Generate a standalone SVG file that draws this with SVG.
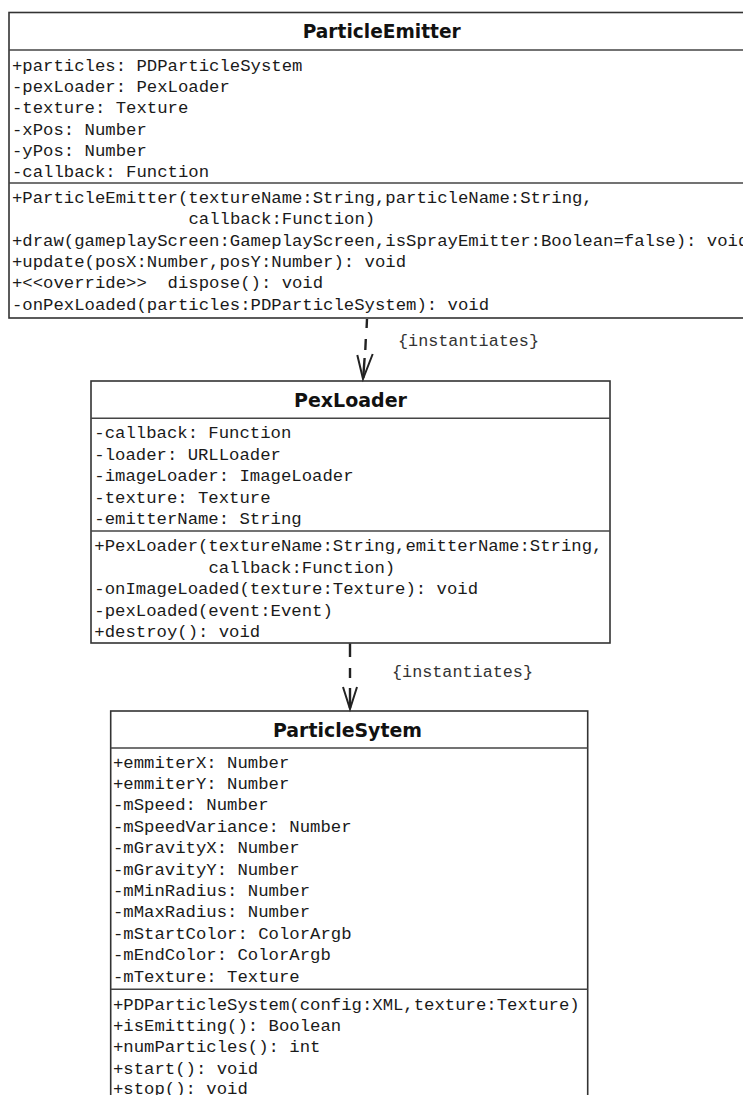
<svg xmlns="http://www.w3.org/2000/svg" width="743" height="1095" viewBox="0 0 743 1095">
<style>
.box{fill:#fff;stroke:#333;stroke-width:1.6}
.div{stroke:#444;stroke-width:1.6}
.title{font-family:"DejaVu Sans","Liberation Sans",sans-serif;font-weight:bold;font-size:19px;fill:#111;text-anchor:middle}
.m{font-family:"Liberation Mono","DejaVu Sans Mono",monospace;font-size:17.3px;fill:#1a1a1a;white-space:pre}
.lbl{font-family:"Liberation Mono","DejaVu Sans Mono",monospace;font-size:16.8px;fill:#333;white-space:pre}
.dash{stroke:#222;stroke-width:2.4;fill:none;stroke-linecap:butt}
.head{stroke:#222;stroke-width:2;fill:none;stroke-linejoin:miter}
</style>
<rect width="743" height="1095" fill="#fff"/>

<g id="ParticleEmitter">
<rect class="box" x="9" y="12.5" width="760" height="305.5"/>
<line class="div" x1="9" y1="50" x2="769" y2="50"/>
<line class="div" x1="9" y1="183" x2="769" y2="183"/>
<text class="title" x="381.7" y="38" textLength="158" lengthAdjust="spacingAndGlyphs">ParticleEmitter</text>
<text class="m" x="12" y="71">+particles: PDParticleSystem</text>
<text class="m" x="12" y="92.2">-pexLoader: PexLoader</text>
<text class="m" x="12" y="113.4">-texture: Texture</text>
<text class="m" x="12" y="134.6">-xPos: Number</text>
<text class="m" x="12" y="155.8">-yPos: Number</text>
<text class="m" x="12" y="177">-callback: Function</text>
<text class="m" x="12" y="203">+ParticleEmitter(textureName:String,particleName:String,</text>
<text class="m" x="188.5" y="224.3">callback:Function)</text>
<text class="m" x="12" y="245.6">+draw(gameplayScreen:GameplayScreen,isSprayEmitter:Boolean=false): void</text>
<text class="m" x="12" y="266.9">+update(posX:Number,posY:Number): void</text>
<text class="m" x="12" y="288.2">+&lt;&lt;override&gt;&gt;  dispose(): void</text>
<text class="m" x="12" y="309.5">-onPexLoaded(particles:PDParticleSystem): void</text>
</g>

<g id="PexLoader">
<rect class="box" x="91" y="381" width="519" height="262"/>
<line class="div" x1="91" y1="418.3" x2="610" y2="418.3"/>
<line class="div" x1="91" y1="531" x2="610" y2="531"/>
<text class="title" x="350.5" y="407" textLength="113" lengthAdjust="spacingAndGlyphs">PexLoader</text>
<text class="m" x="94.3" y="438">-callback: Function</text>
<text class="m" x="94.3" y="459.5">-loader: URLLoader</text>
<text class="m" x="94.3" y="481">-imageLoader: ImageLoader</text>
<text class="m" x="94.3" y="502.5">-texture: Texture</text>
<text class="m" x="94.3" y="524">-emitterName: String</text>
<text class="m" x="94.3" y="551">+PexLoader(textureName:String,emitterName:String,</text>
<text class="m" x="208.5" y="572.5">callback:Function)</text>
<text class="m" x="94.3" y="594">-onImageLoaded(texture:Texture): void</text>
<text class="m" x="94.3" y="615.5">-pexLoaded(event:Event)</text>
<text class="m" x="94.3" y="637">+destroy(): void</text>
</g>

<g id="ParticleSytem">
<rect class="box" x="110.7" y="711" width="477" height="400"/>
<line class="div" x1="110.7" y1="748" x2="587.7" y2="748"/>
<line class="div" x1="110.7" y1="989.3" x2="587.7" y2="989.3"/>
<text class="title" x="347.5" y="737" textLength="149" lengthAdjust="spacingAndGlyphs">ParticleSytem</text>
<text class="m" x="113" y="767.5">+emmiterX: Number</text>
<text class="m" x="113" y="788.9">+emmiterY: Number</text>
<text class="m" x="113" y="810.3">-mSpeed: Number</text>
<text class="m" x="113" y="831.7">-mSpeedVariance: Number</text>
<text class="m" x="113" y="853.1">-mGravityX: Number</text>
<text class="m" x="113" y="874.5">-mGravityY: Number</text>
<text class="m" x="113" y="895.9">-mMinRadius: Number</text>
<text class="m" x="113" y="917.3">-mMaxRadius: Number</text>
<text class="m" x="113" y="938.7">-mStartColor: ColorArgb</text>
<text class="m" x="113" y="960.1">-mEndColor: ColorArgb</text>
<text class="m" x="113" y="981.5">-mTexture: Texture</text>
<text class="m" x="113" y="1009.5">+PDParticleSystem(config:XML,texture:Texture)</text>
<text class="m" x="113" y="1030.9">+isEmitting(): Boolean</text>
<text class="m" x="113" y="1052.3">+numParticles(): int</text>
<text class="m" x="113" y="1073.7">+start(): void</text>
<text class="m" x="113" y="1093.5">+stop(): void</text>
</g>

<g id="connectors">
<g id="edge1">
<path class="dash" d="M367,319 L366.6,328 M365.8,339 L365.3,350 M364.6,358 L363.2,378"/>
<polyline class="head" points="357.3,355 363,379 372.7,354"/>
<text class="lbl" x="398" y="346">{instantiates}</text>
</g>
<g id="edge2">
<path class="dash" d="M350,643.5 L350,657 M350,668 L350,678 M350,688 L350,708"/>
<polyline class="head" points="343,687 350,709 357,687"/>
<text class="lbl" x="392" y="677">{instantiates}</text>
</g>
</g>
</svg>
